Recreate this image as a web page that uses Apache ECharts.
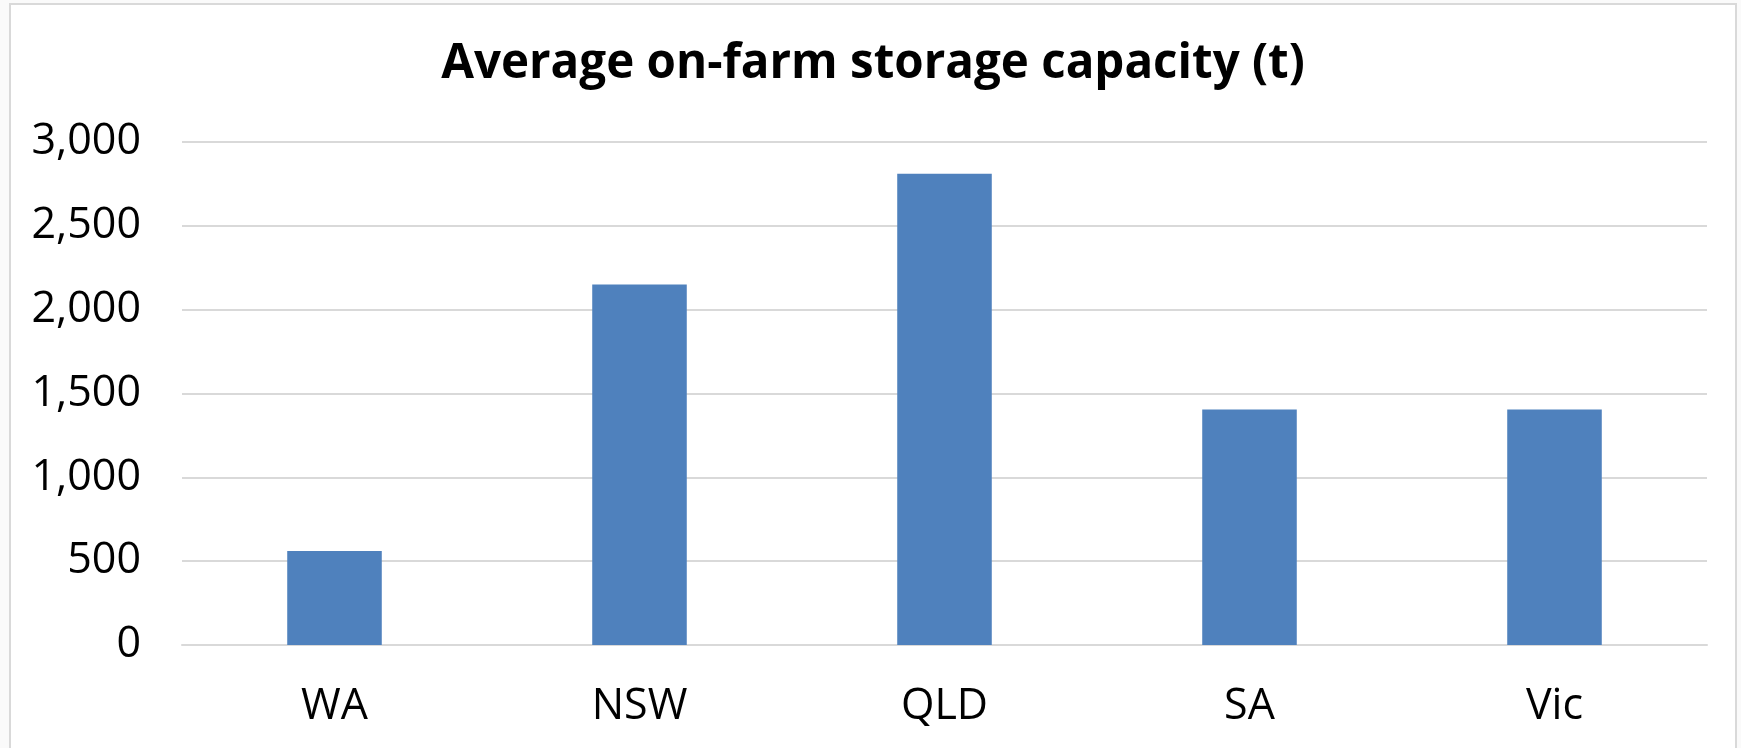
<!DOCTYPE html>
<html>
<head>
<meta charset="utf-8">
<script src="https://cdn.jsdelivr.net/npm/echarts@6/dist/echarts.min.js"></script>
<style>
  html, body { margin: 0; padding: 0; background: #fafafa; width: 1741px; height: 748px; overflow: hidden; }
  #chart {
    position: absolute;
    left: 9px;
    top: 3px;
    width: 1724px;
    height: 745px;
    border: 2px solid #d9d9d9;
    border-bottom: none;
    background: #fff;
  }
</style>
</head>
<body>
<div id="chart"></div>
<script>
// chart data
var states = ['WA', 'NSW', 'QLD', 'SA', 'Vic']
var capacity = [560, 2150, 2810, 1405, 1405]
var yTicks = [0, 500, 1000, 1500, 2000, 2500, 3000]

var myChart = echarts.init(document.getElementById('chart'))
var option = {
  title: {
    text: 'Average on-farm storage capacity (t)',
    left: 'center',
    top: 30,
    textStyle: {
      fontFamily: 'Open Sans',
      fontWeight: 'bold',
      fontSize: 47.5,
      color: '#000'
    }
  },
  grid: {
    left: 171,
    right: 28,
    top: 137,
    bottom: 105
  },
  xAxis: {
    type: 'category',
    data: states,
    axisLine: { lineStyle: { color: '#d9d9d9', width: 2 } },
    axisTick: { show: false },
    axisLabel: {
      margin: 40,
      fontFamily: 'Open Sans',
      fontSize: 43,
      color: '#000'
    }
  },
  yAxis: {
    type: 'value',
    min: yTicks[0],
    max: yTicks[yTicks.length - 1],
    interval: 500,
    axisLine: { show: false },
    axisTick: { show: false },
    splitLine: { lineStyle: { color: '#d9d9d9', width: 2 } },
    axisLabel: {
      margin: 41,
      fontFamily: 'Open Sans',
      fontSize: 43,
      color: '#000',
      formatter: function (v) {
        return v.toLocaleString('en-US')
      }
    }
  },
  series: [
    {
      type: 'bar',
      data: capacity,
      barWidth: '31%',
      itemStyle: { color: '#4f81bd' },
      animation: false
    }
  ]
}
myChart.setOption(option)
</script>
</body>
</html>
